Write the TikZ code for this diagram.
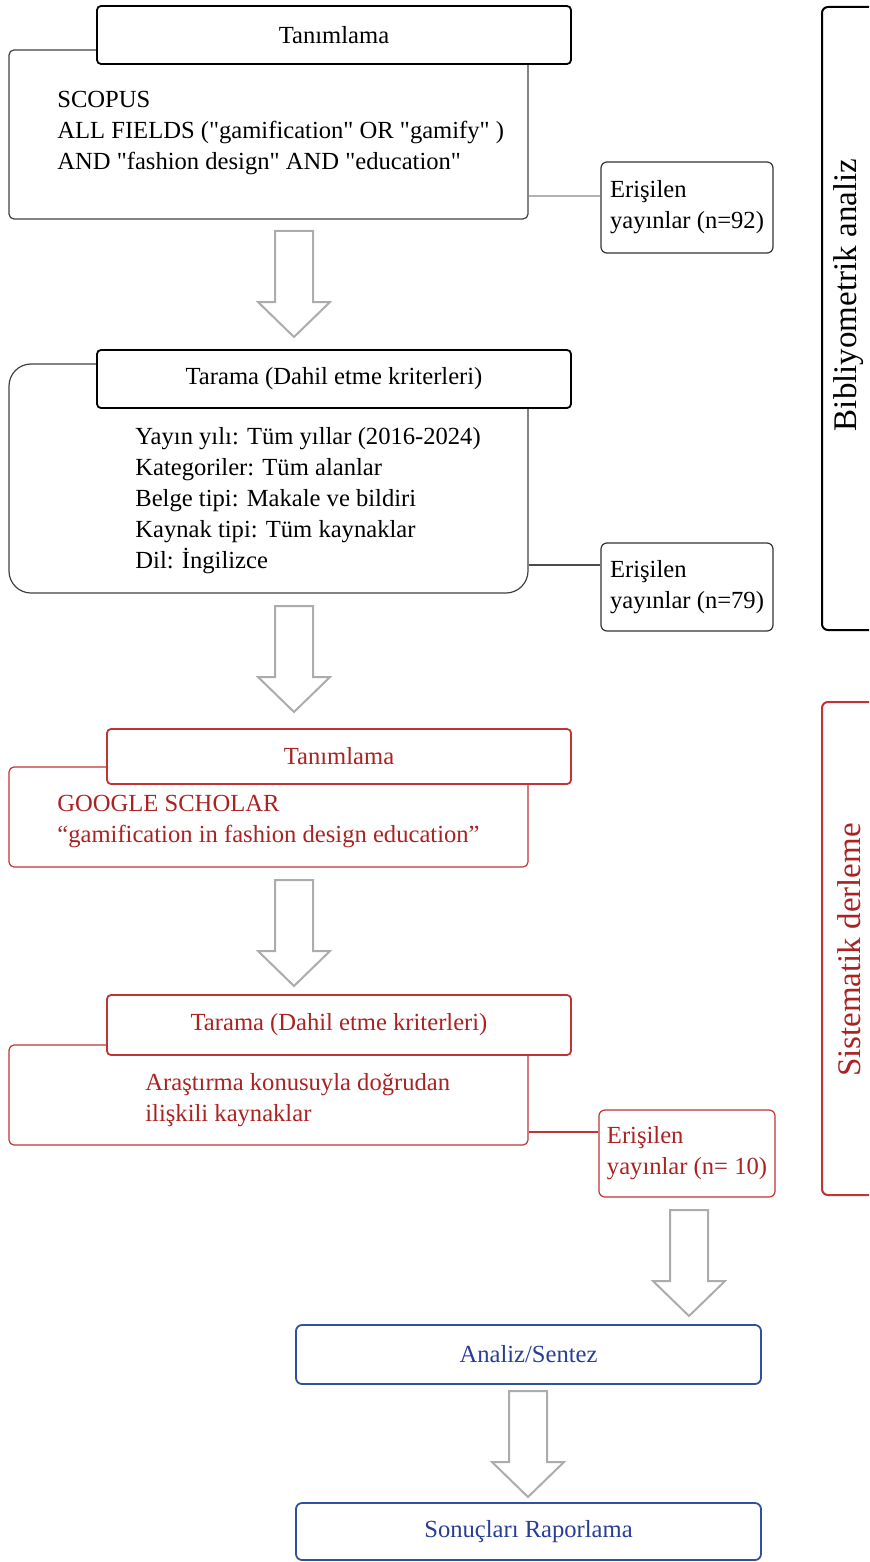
\documentclass[tikz,border=0pt]{standalone}
\usepackage{fontspec}
\setmainfont{Liberation Serif}[Ligatures=TeXOff]
\usetikzlibrary{positioning, calc}

\definecolor{framered}{RGB}{192,52,52}
\definecolor{textred}{RGB}{170,34,34}
\definecolor{frameblue}{RGB}{47,82,160}
\definecolor{textblue}{RGB}{40,62,150}
\definecolor{arrowgray}{RGB}{172,172,172}

\begin{document}
\begin{tikzpicture}[
		x=0.5pt, y=-0.5pt,
		every node/.style={font=\fontsize{12.3}{15.5}\selectfont},
		% Title box sitting on the corner of a body box
		head/.style={draw, fill=white, rounded corners=2pt, line width=0.9pt,
			minimum height=29pt, inner sep=0pt},
		% Body box under a title
		body/.style={draw=black!75, rounded corners=2.5pt, line width=0.6pt,
			minimum width=259.5pt, inner sep=0pt},
		bodytext/.style={align=left, inner sep=0pt, anchor=west},
		% Small count boxes on the right
		count/.style={draw=black!80, rounded corners=3pt, line width=0.6pt,
			minimum width=86pt, align=left, inner xsep=4pt},
		redbox/.style={draw=framered, text=textred},
		% Final blue boxes
		final/.style={draw=frameblue, text=textblue, rounded corners=3pt, line width=0.9pt,
			minimum width=232.5pt, inner sep=0pt},
		% Side labels and frames
		side/.style={rotate=90, font=\fontsize{16.5}{20}\selectfont},
		sideframe/.style={line width=1pt, rounded corners=3pt},
		% Big hollow arrows
		hollow/.style={draw=arrowgray, fill=white, line width=1pt, line join=miter},
		link/.style={line width=0.8pt}
		]
		\useasboundingbox (0,0) rectangle (869,1562);
		
		% === SCOPUS ===
		
		\node[body, minimum height=84.5pt] (body1) at (268.5,134.5) {};
		\node[head, minimum width=237pt] (head1) at (334,35) {Tanımlama};
		\node[bodytext] (text1) at (57,133)
		{SCOPUS\\ALL FIELDS ("gamification" OR "gamify" )\\AND "fashion design" AND "education"};
		\node[count, minimum height=45.5pt] (n92) at (687,207.5) {Erişilen\\yayınlar (n=92)};
		\coordinate (c92) at ($(n92.west)+(0,-11.5)$);
		\draw[link, black!30] (c92) -- (body1.east |- c92);
		
		% Tarama (Dahil etme kriterleri)
		\node[body, rounded corners=11pt, minimum height=114.5pt] (body2) at (268.5,478.5) {};
		\node[head, minimum width=237pt] (head2) at (334,379) {Tarama (Dahil etme kriterleri)};
		\node[bodytext] (text2) at (135,500.5)
		{Yayın yılı: Tüm yıllar (2016-2024)\\Kategoriler: Tüm alanlar\\Belge tipi: Makale ve bildiri\\Kaynak tipi: Tüm kaynaklar\\Dil: İngilizce};
		\node[count, minimum height=44pt] (n79) at (687,587) {Erişilen\\yayınlar (n=79)};
		\coordinate (c79) at ($(n79.west)+(0,-22)$);
		\draw[link, black!70] (c79) -- (body2.east |- c79);
		
		% === GOOGLE SCHOLAR ===
		
		\node[body, redbox, minimum height=50pt] (body3) at (268.5,817) {};
		\node[head, redbox, minimum width=232pt, minimum height=27.5pt] (head3) at (339,756.5) {Tanımlama};
		\node[bodytext, text=textred] (text3) at (57,821.5)
		{GOOGLE SCHOLAR\\“gamification in fashion design education”};
		
		\node[body, redbox, minimum height=50pt] (body4) at (268.5,1095) {};
		\node[head, redbox, minimum width=232pt, minimum height=30pt] (head4) at (339,1025) {Tarama (Dahil etme kriterleri)};
		\node[bodytext, text=textred] (text4) at (145,1100.5)
		{Araştırma konusuyla doğrudan\\ilişkili kaynaklar};
		\node[count, redbox, minimum height=43.5pt] (n10) at (687,1153.5) {Erişilen\\yayınlar (n= 10)};
		\coordinate (c10) at ($(n10.west)+(0,-21.5)$);
		\draw[link, framered] (c10) -- (body4.east |- c10);
		
		% === SYNTHESIS ===
		
		\node[final, minimum height=29.5pt] (analiz) at (528.5,1354.5) {Analiz/Sentez};
		\node[final, minimum height=28.5pt] (rapor) at (528.5,1531.5) {Sonuçları Raporlama};
		
		% === HOLLOW ARROWS ===
		
		\foreach \ax/\ay in {294/231, 294/606, 294/880, 689/1210, 528/1391}
		\draw[hollow] (\ax-19,\ay) -- (\ax+19,\ay) -- (\ax+19,\ay+71) -- (\ax+36,\ay+71)
		-- (\ax,\ay+106) -- (\ax-36,\ay+71) -- (\ax-19,\ay+71) -- cycle;
		
		% === SIDE FRAMES ===
		
		\draw[sideframe] (869,7) -- (822,7) -- (822,630) -- (869,630);
		\node[side] (biblio) at (849,295) {Bibliyometrik analiz};
		
		\draw[sideframe, framered] (869,702) -- (822,702) -- (822,1195) -- (869,1195);
		\node[side, text=textred] (sistem) at (849,950) {Sistematik derleme};
		
	\end{tikzpicture}
\end{document}
